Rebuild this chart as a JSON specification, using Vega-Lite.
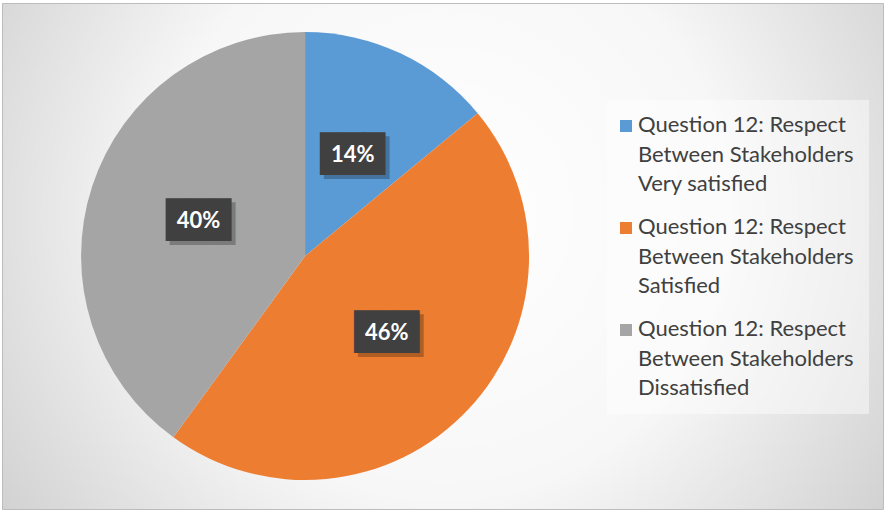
{
  "$schema": "https://vega.github.io/schema/vega-lite/v6.json",
  "width": 885,
  "height": 512,
  "autosize": {"type": "fit", "contains": "padding"},
  "padding": {"left": 2, "top": 3, "right": 2, "bottom": 3},
  "background": "#ffffff",
  "config": {
    "view": {
      "fill": {
        "gradient": "radial",
        "x1": 0.5, "y1": 0.45, "r1": 0,
        "x2": 0.5, "y2": 0.45, "r2": 0.72,
        "stops": [
          {"offset": 0, "color": "#ffffff"},
          {"offset": 0.45, "color": "#f7f7f7"},
          {"offset": 1, "color": "#c2c2c2"}
        ]
      },
      "stroke": "#bcbcbc",
      "strokeWidth": 1
    }
  },
  "data": {
    "values": [
      {"category": "Question 12: Respect Between Stakeholders Very satisfied", "share": 0.14, "rank": 1},
      {"category": "Question 12: Respect Between Stakeholders Satisfied", "share": 0.46, "rank": 2},
      {"category": "Question 12: Respect Between Stakeholders Dissatisfied", "share": 0.40, "rank": 3}
    ]
  },
  "encoding": {
    "theta": {"field": "share", "type": "quantitative", "stack": true},
    "order": {"field": "rank", "type": "quantitative"},
    "x": {"datum": 0.344, "type": "quantitative", "scale": {"domain": [0, 1], "nice": false, "zero": false}, "axis": null},
    "y": {"datum": 0.5, "type": "quantitative", "scale": {"domain": [0, 1], "nice": false, "zero": false}, "axis": null}
  },
  "layer": [
    {
      "mark": {"type": "arc", "outerRadius": 224},
      "encoding": {
        "color": {
          "field": "category",
          "type": "nominal",
          "scale": {
            "domain": [
              "Question 12: Respect Between Stakeholders Very satisfied",
              "Question 12: Respect Between Stakeholders Satisfied",
              "Question 12: Respect Between Stakeholders Dissatisfied"
            ],
            "range": ["#5b9bd5", "#ed7d31", "#a5a5a5"]
          },
          "legend": {
            "orient": "none",
            "legendX": 605,
            "legendY": 97,
            "title": null,
            "labelExpr": "[substring(datum.label,0,20), substring(datum.label,21,41), substring(datum.label,42)]",
            "symbolType": "square",
            "symbolSize": 144,
            "symbolStrokeWidth": 0,
            "symbolOffset": -7,
            "labelFont": "Lato",
            "labelFontSize": 22,
            "labelColor": "#404040",
            "labelLimit": 400,
            "labelOffset": 1,
            "labelBaseline": "top",
            "rowPadding": 21,
            "padding": 15,
            "fillColor": "rgba(255,255,255,0.45)",
            "encode": {"labels": {"update": {"lineHeight": {"value": 29.5}, "dy": {"value": -11}}}}
          }
        }
      }
    },
    {
      "mark": {"type": "text", "radius": 112, "text": "███", "font": "DejaVu Sans Mono", "fontSize": 36, "color": "#000000", "opacity": 0.25, "dx": 4, "dy": 4}
    },
    {
      "mark": {"type": "text", "radius": 112, "text": "███", "font": "DejaVu Sans Mono", "fontSize": 36, "color": "#404040"}
    },
    {
      "mark": {"type": "text", "radius": 112, "font": "Lato", "fontWeight": "bold", "fontSize": 22, "color": "#ffffff"},
      "encoding": {"text": {"field": "share", "type": "quantitative", "format": ".0%"}}
    }
  ]
}
